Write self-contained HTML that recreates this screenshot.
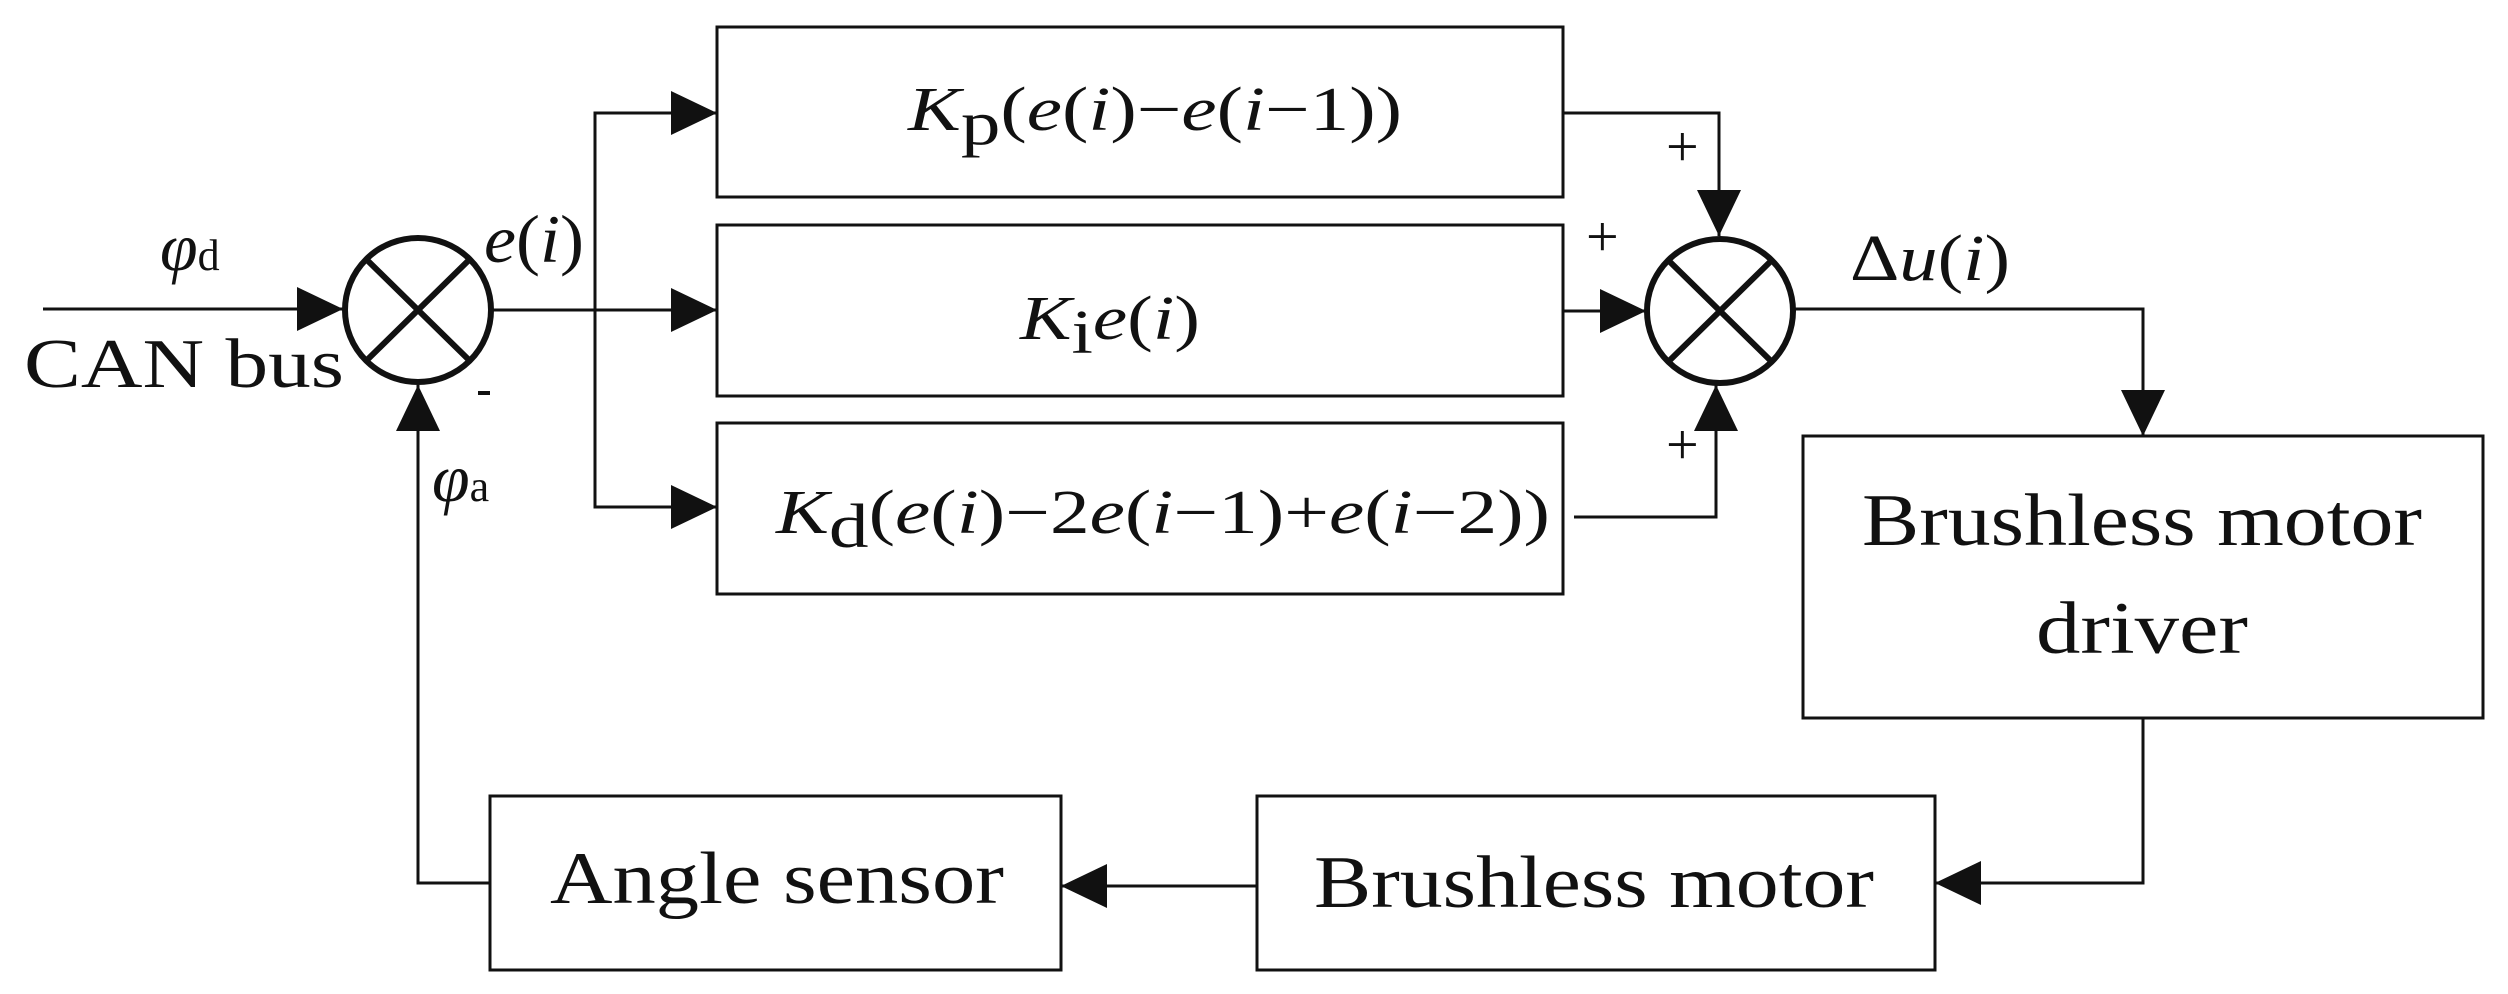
<!DOCTYPE html>
<html><head><meta charset="utf-8"><style>
html,body{margin:0;padding:0;background:#fff}
svg{display:block}
text{font-family:"Liberation Serif",serif;fill:#111}
.m{font-style:italic}
</style></head><body>
<svg width="2508" height="994" viewBox="0 0 2508 994" xmlns="http://www.w3.org/2000/svg">
<defs>
<marker id="a" viewBox="0 0 46 44" refX="46" refY="22" markerWidth="46" markerHeight="44" markerUnits="userSpaceOnUse" orient="auto">
<path d="M0,0 L46,22 L0,44 Z" fill="#111"/></marker>
</defs>
<g fill="none" stroke="#111" stroke-width="3">
<rect x="717" y="27" width="846" height="170"/>
<rect x="717" y="225" width="846" height="171"/>
<rect x="717" y="423" width="846" height="171"/>
<rect x="1803" y="436" width="680" height="282"/>
<rect x="1257" y="796" width="678" height="174"/>
<rect x="490" y="796" width="571" height="174"/>
<path d="M43,309 H343" marker-end="url(#a)"/>
<path d="M493,310 H717" marker-end="url(#a)"/>
<path d="M595,310 V113 H717" marker-end="url(#a)"/>
<path d="M595,310 V507 H717" marker-end="url(#a)"/>
<path d="M490,883 H418 V385" marker-end="url(#a)"/>
<path d="M1563,113 H1719 V236" marker-end="url(#a)"/>
<path d="M1563,311 H1646" marker-end="url(#a)"/>
<path d="M1574,517 H1716 V385" marker-end="url(#a)"/>
<path d="M1794,309 H2143 V436" marker-end="url(#a)"/>
<path d="M2143,718 V883 H1935" marker-end="url(#a)"/>
<path d="M1257,886 H1061" marker-end="url(#a)"/>
</g>
<g fill="none" stroke="#111" stroke-width="6">
<ellipse cx="418" cy="310" rx="73" ry="72"/>
<path d="M366,259 L470,361 M470,259 L366,361"/>
<ellipse cx="1720" cy="311" rx="73" ry="72"/>
<path d="M1668,260 L1772,362 M1772,260 L1668,362"/>
</g>
<path d="M478,393 H490" stroke="#111" stroke-width="4"/>
<g font-size="62">
<text x="160" y="270" class="m" font-size="68">φ<tspan font-style="normal" font-size="44">d</tspan></text>
<text x="24" y="387" font-size="70" textLength="320" lengthAdjust="spacingAndGlyphs">CAN bus</text>
<text x="484" y="262" class="m" font-size="68" textLength="100" lengthAdjust="spacingAndGlyphs">e<tspan font-style="normal">(</tspan>i<tspan font-style="normal">)</tspan></text>
<text x="432" y="501" class="m" font-size="68">φ<tspan font-style="normal" font-size="44">a</tspan></text>
<text x="908" y="130" textLength="494" lengthAdjust="spacingAndGlyphs"><tspan class="m">K</tspan><tspan dy="14">p</tspan><tspan dy="-14">(</tspan><tspan class="m">e</tspan>(<tspan class="m">i</tspan>)−<tspan class="m">e</tspan>(<tspan class="m">i</tspan>−1))</text>
<text x="1020" y="339" textLength="180" lengthAdjust="spacingAndGlyphs"><tspan class="m">K</tspan><tspan dy="14">i</tspan><tspan dy="-14" class="m">e</tspan>(<tspan class="m">i</tspan>)</text>
<text x="776" y="533" textLength="774" lengthAdjust="spacingAndGlyphs"><tspan class="m">K</tspan><tspan dy="14">d</tspan><tspan dy="-14">(</tspan><tspan class="m">e</tspan>(<tspan class="m">i</tspan>)−2<tspan class="m">e</tspan>(<tspan class="m">i</tspan>−1)+<tspan class="m">e</tspan>(<tspan class="m">i</tspan>−2))</text>
<text x="1666" y="166" font-size="58">+</text>
<text x="1586" y="256" font-size="58">+</text>
<text x="1666" y="464" font-size="58">+</text>
<text x="1850" y="280" font-size="66" textLength="160" lengthAdjust="spacingAndGlyphs">Δ<tspan class="m">u</tspan>(<tspan class="m">i</tspan>)</text>
</g>
<g font-size="74">
<text x="1862" y="545" textLength="560" lengthAdjust="spacingAndGlyphs">Brushless motor</text>
<text x="2036" y="653" textLength="212" lengthAdjust="spacingAndGlyphs">driver</text>
<text x="1314" y="907" textLength="560" lengthAdjust="spacingAndGlyphs">Brushless motor</text>
<text x="550" y="903" textLength="454" lengthAdjust="spacingAndGlyphs">Angle sensor</text>
</g>
</svg>
</body></html>
